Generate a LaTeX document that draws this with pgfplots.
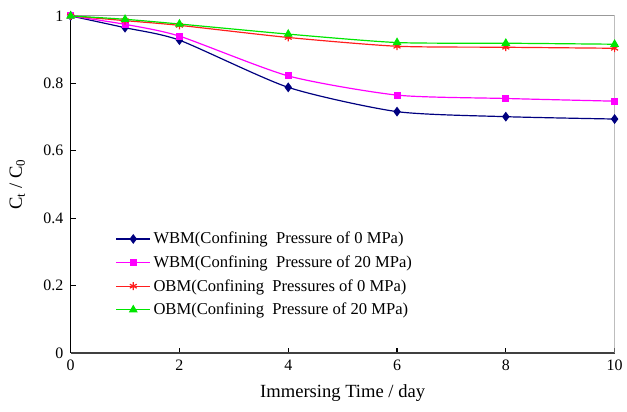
\documentclass[border=0pt]{standalone}
\usepackage{fontspec}
\setmainfont{Liberation Serif}
\usepackage{pgfplots}
\pgfplotsset{compat=1.18}

\definecolor{wbmzero}{RGB}{0,0,128}
\definecolor{wbmtwenty}{RGB}{255,0,255}
\definecolor{obmzero}{RGB}{255,30,30}
\definecolor{obmtwenty}{RGB}{0,230,0}

\begin{document}
\begin{tikzpicture}
\begin{axis}[
  scale only axis, width=410pt, height=254pt,
  xmin=0, xmax=10, ymin=0, ymax=1,
  xtick={0,2,...,10}, ytick={0,0.2,...,1},
  xticklabels={0,2,4,6,8,10},
  yticklabels={0,0.2,0.4,0.6,0.8,1},
  tick label style={font=\fontsize{12}{14}\selectfont},
  label style={font=\fontsize{14}{16}\selectfont},
  xlabel={Immersing Time / day},
  ylabel={C\textsubscript{t} / C\textsubscript{0}},
  xlabel style={at={(axis description cs:0.5,0)}, anchor=center, yshift=-30pt},
  ylabel style={at={(axis description cs:-0.098,0.5)}, anchor=center},
  xticklabel style={yshift=-2pt},
  yticklabel style={xshift=-2pt},
  tick align=inside,
  xtick pos=bottom, ytick pos=left,
  major tick length=4pt,
  tick style={black, line width=0.8pt},
  axis x line*=bottom, axis y line*=left,
  x axis line style={black!75, line width=0.9pt},
  y axis line style={black, line width=0.9pt},
  legend style={draw=none, fill=none, at={(0.075,0.375)}, anchor=north west,
    font=\fontsize{12.5}{14}\selectfont, row sep=3.5pt},
  legend cell align=left,
  legend image code/.code={%
    \draw[line width=0.9pt, mark repeat=2, mark phase=2, sharp plot]
      plot coordinates {(0cm,0cm) (0.45cm,0cm) (0.9cm,0cm)};},
  every axis plot/.append style={line width=0.9pt, smooth, tension=0.4},
]
\draw[gray!80, line width=0.8pt] (axis cs:0,1) -- (axis cs:10,1) -- (axis cs:10,0);
\addplot[color=wbmzero, mark=diamond*, mark size=3pt] coordinates {
  (0,1) (1,0.965) (2,0.928) (4,0.788) (6,0.716) (8,0.701) (10,0.694) };
\addlegendentry{WBM(Confining\ \ Pressure of 0 MPa)}
\addplot[color=wbmtwenty, mark=square*, mark size=2.2pt] coordinates {
  (0,1) (1,0.975) (2,0.940) (4,0.822) (6,0.765) (8,0.755) (10,0.747) };
\addlegendentry{WBM(Confining\ \ Pressure of 20 MPa)}
\addplot[color=obmzero, mark=asterisk, mark size=3pt] coordinates {
  (0,1) (1,0.986) (2,0.972) (4,0.936) (6,0.910) (8,0.907) (10,0.904) };
\addlegendentry{OBM(Confining\ \ Pressures of 0 MPa)}
\addplot[color=obmtwenty, mark=triangle*, mark size=3pt] coordinates {
  (0,1) (1,0.990) (2,0.976) (4,0.946) (6,0.921) (8,0.919) (10,0.916) };
\addlegendentry{OBM(Confining\ \ Pressure of 20 MPa)}
\end{axis}
\useasboundingbox ([xshift=-53.25pt,yshift=-44.25pt]current axis.south west)
  rectangle ([xshift=6.75pt,yshift=12pt]current axis.north east);
\end{tikzpicture}
\end{document}
